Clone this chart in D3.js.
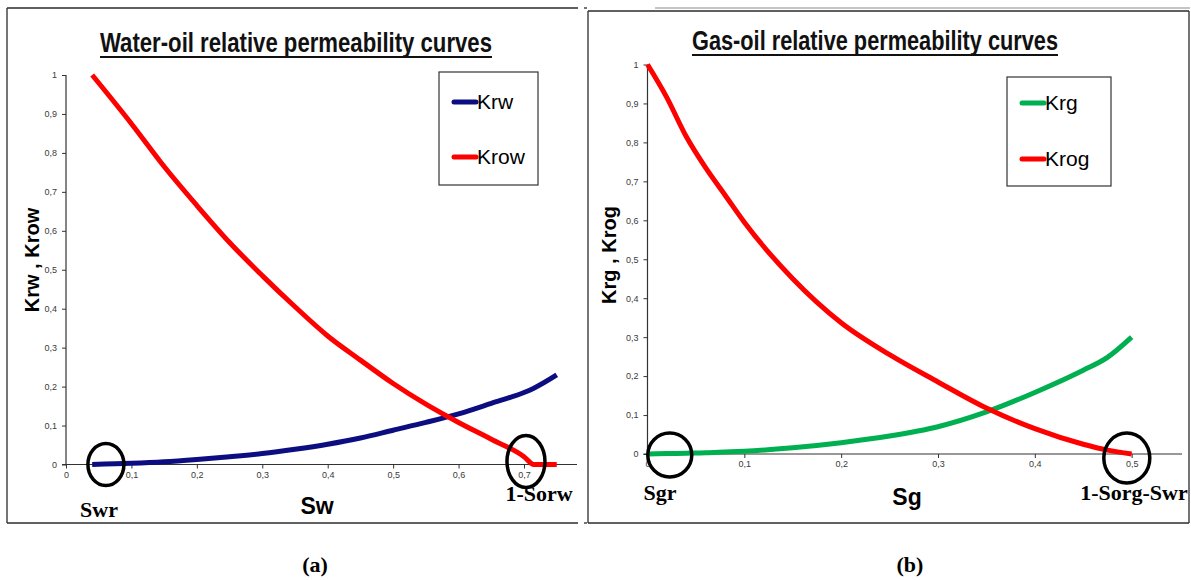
<!DOCTYPE html>
<html>
<head>
<meta charset="utf-8">
<script src="https://cdn.jsdelivr.net/npm/d3@7/dist/d3.min.js"></script>
<style>
  html, body { margin: 0; padding: 0; background: #fff; }
  svg { display: block; }
</style>
</head>
<body>
<svg id="chart" width="1191" height="580"></svg>
<script>
// Water-oil relative permeability (saturation, Krw, Krow)
const sw   = [0.04, 0.1, 0.15, 0.2, 0.25, 0.3, 0.35, 0.4, 0.45, 0.5, 0.55, 0.6, 0.65, 0.7, 0.715, 0.75];
const krw  = [0, 0.003, 0.007, 0.013, 0.02, 0.028, 0.039, 0.052, 0.068, 0.088, 0.108, 0.13, 0.157, 0.185, 0.196, 0.23];
const krow = [1, 0.875, 0.765, 0.665, 0.57, 0.485, 0.405, 0.33, 0.268, 0.208, 0.155, 0.108, 0.065, 0.02, 0, 0];

// Gas-oil relative permeability (saturation, Krg, Krog)
const sg   = [0, 0.02, 0.04, 0.06, 0.08, 0.1, 0.15, 0.2, 0.25, 0.3, 0.35, 0.4, 0.45, 0.475, 0.5];
const krg  = [0, 0.001, 0.002, 0.003, 0.005, 0.007, 0.016, 0.029, 0.046, 0.07, 0.108, 0.158, 0.215, 0.248, 0.3];
const krog = [1, 0.915, 0.815, 0.735, 0.665, 0.595, 0.45, 0.337, 0.255, 0.185, 0.118, 0.065, 0.025, 0.01, 0];

// Tick values
const yTicks   = [0, 0.1, 0.2, 0.3, 0.4, 0.5, 0.6, 0.7, 0.8, 0.9, 1];
const swTicks  = [0, 0.1, 0.2, 0.3, 0.4, 0.5, 0.6, 0.7];
const sgTicks  = [0, 0.1, 0.2, 0.3, 0.4, 0.5];

// End-point saturations that are circled on each plot
const swEnds = [0.061, 0.703];
const sgEnds = [0.023, 0.495];

const svg = d3.select("#chart");
const comma = v => (v === 0 || v === 1) ? String(v) : d3.format(".1f")(v).replace(".", ",");

function frame(lines) {
  lines.forEach(l => svg.append("line")
    .attr("x1", l[0]).attr("y1", l[1]).attr("x2", l[2]).attr("y2", l[3])
    .attr("stroke", l[4] || "#2b2b2b").attr("stroke-width", l[5] || 1.3));
}

function panel(o) {
  const x = d3.scaleLinear().domain(o.xDomain).range(o.xRange);
  const y = d3.scaleLinear().domain([0, 1]).range(o.yRange);
  const g = svg.append("g");

  // title, underlined
  g.append("text")
    .attr("x", o.titleX).attr("y", o.titleY)
    .attr("text-anchor", "middle")
    .attr("textLength", o.titleW).attr("lengthAdjust", "spacingAndGlyphs")
    .style("font-family", "'Liberation Sans Narrow', 'Arial Narrow', 'Liberation Sans', sans-serif")
    .style("font-weight", "bold").style("font-size", "27px").attr("fill", "#111")
    .text(o.title);
  g.append("line")
    .attr("x1", o.titleX - o.titleW / 2).attr("x2", o.titleX + o.titleW / 2)
    .attr("y1", o.titleY + 5).attr("y2", o.titleY + 5)
    .attr("stroke", "#111").attr("stroke-width", 1.8);

  // axes
  const yAxis = g.append("g").attr("transform", `translate(${x(0)},0)`)
    .call(d3.axisLeft(y).tickValues(yTicks).tickFormat(comma).tickSize(4).tickPadding(5));
  const xAxis = g.append("g").attr("transform", `translate(0,${y(0)})`)
    .call(d3.axisBottom(x).tickValues(o.xTicks).tickFormat(comma).tickSize(4).tickPadding(3));
  [xAxis, yAxis].forEach(a => {
    a.select(".domain").attr("stroke", "#333").attr("stroke-width", 1.2);
    a.selectAll(".tick line").attr("stroke", "#333");
    a.selectAll(".tick text")
      .style("font-family", "'Liberation Sans', Arial, sans-serif")
      .style("font-size", "9px").attr("fill", "#3a3a3a");
  });
  // y axis runs only from 0 to 1, x axis from 0 to domain end
  yAxis.select(".domain").attr("d", `M0,${y(1)}V${y(0)}`);
  xAxis.select(".domain").attr("d", `M${x(0) - 4},0H${o.xRange[1]}`);

  // curves
  const line = d3.line().x(d => x(d[0])).y(d => y(d[1])).curve(d3.curveMonotoneX);
  o.series.forEach(s => {
    g.append("path")
      .datum(s.xs.map((v, i) => [v, s.ys[i]]))
      .attr("d", line)
      .attr("fill", "none").attr("stroke", s.color)
      .attr("stroke-width", 5).attr("stroke-linejoin", "round").attr("stroke-linecap", "butt");
  });

  // circled end-points
  o.ends.forEach((v, i) => {
    g.append("ellipse")
      .attr("cx", x(v)).attr("cy", y(0) + o.ringDy[i])
      .attr("rx", o.ringR[i][0]).attr("ry", o.ringR[i][1])
      .attr("fill", "none").attr("stroke", "#000").attr("stroke-width", 3.5);
  });

  // axis titles
  g.append("text")
    .attr("transform", `translate(${o.yLabelX},${o.yLabelY}) rotate(-90)`)
    .attr("text-anchor", "middle")
    .style("font-family", "'Liberation Sans', Arial, sans-serif")
    .style("font-weight", "bold").style("font-size", "20px").attr("fill", "#000")
    .text(o.yLabel);
  g.append("text")
    .attr("x", o.xLabelX).attr("y", o.xLabelY)
    .attr("text-anchor", "middle")
    .style("font-family", "'Liberation Sans', Arial, sans-serif")
    .style("font-weight", "bold").style("font-size", "23px").attr("fill", "#000")
    .text(o.xLabel);

  // end-point names
  o.endLabels.forEach(l => {
    g.append("text")
      .attr("x", l.x).attr("y", l.y).attr("text-anchor", "middle")
      .style("font-family", "'Liberation Serif', 'Times New Roman', serif")
      .style("font-weight", "bold").style("font-size", "22px").attr("fill", "#000")
      .text(l.text);
  });

  // legend
  const lg = g.append("g");
  lg.append("rect")
    .attr("x", o.legend.x).attr("y", o.legend.y)
    .attr("width", o.legend.w).attr("height", o.legend.h)
    .attr("fill", "#fff").attr("stroke", "#333").attr("stroke-width", 1.2);
  o.series.forEach((s, i) => {
    const ry = o.legend.y + o.legend.rowY[i];
    lg.append("line")
      .attr("x1", o.legend.x + 15).attr("x2", o.legend.x + 37)
      .attr("y1", ry).attr("y2", ry)
      .attr("stroke", s.color).attr("stroke-width", 5).attr("stroke-linecap", "round");
    lg.append("text")
      .attr("x", o.legend.x + 38).attr("y", ry + 7)
      .style("font-family", "'Liberation Sans', Arial, sans-serif")
      .style("font-size", "21px").attr("fill", "#000")
      .text(s.name);
  });

  // caption
  g.append("text")
    .attr("x", o.capX).attr("y", 572).attr("text-anchor", "middle")
    .style("font-family", "'Liberation Serif', 'Times New Roman', serif")
    .style("font-weight", "bold").style("font-size", "22px").attr("fill", "#000")
    .text(o.caption);
}

// panel frames
frame([
  [7, 8, 578, 8], [7, 8, 7, 523], [7, 523, 578, 523],
  [584, 8, 587, 8], [584, 523, 587, 523],
  [655, 8, 1190, 8, "#8a8a8a", 1.2],
  [588, 11, 1189, 11], [588, 11, 588, 523], [1189, 11, 1189, 523], [588, 523, 1189, 523]
]);

panel({
  title: "Water-oil relative permeability curves", titleX: 296, titleY: 52, titleW: 392,
  xDomain: [0, 0.781], xRange: [66, 577], yRange: [464.5, 75], xTicks: swTicks,
  series: [
    { name: "Krw",  xs: sw, ys: krw,  color: "#0d0d82" },
    { name: "Krow", xs: sw, ys: krow, color: "#ff0000" }
  ],
  ends: swEnds, ringDy: [0, -3], ringR: [[18, 21], [19, 26]],
  yLabel: "Krw , Krow", yLabelX: 39, yLabelY: 260,
  xLabel: "Sw", xLabelX: 317, xLabelY: 514,
  endLabels: [{ text: "Swr", x: 99, y: 517 }, { text: "1-Sorw", x: 539, y: 501 }],
  legend: { x: 439, y: 72, w: 99, h: 113, rowY: [30, 85] },
  capX: 315, caption: "(a)"
});

panel({
  title: "Gas-oil relative permeability curves", titleX: 875, titleY: 50, titleW: 366,
  xDomain: [0, 0.552], xRange: [647.5, 1182], yRange: [454, 64.5], xTicks: sgTicks,
  series: [
    { name: "Krg",  xs: sg, ys: krg,  color: "#00b050" },
    { name: "Krog", xs: sg, ys: krog, color: "#ff0000" }
  ],
  ends: sgEnds, ringDy: [1, 4], ringR: [[22, 22], [23, 25]],
  yLabel: "Krg , Krog", yLabelX: 616, yLabelY: 255,
  xLabel: "Sg", xLabelX: 907, xLabelY: 505,
  endLabels: [{ text: "Sgr", x: 660, y: 500 }, { text: "1-Sorg-Swr", x: 1134, y: 500 }],
  legend: { x: 1007, y: 77, w: 104, h: 109, rowY: [26, 82] },
  capX: 910, caption: "(b)"
});
</script>
</body>
</html>
